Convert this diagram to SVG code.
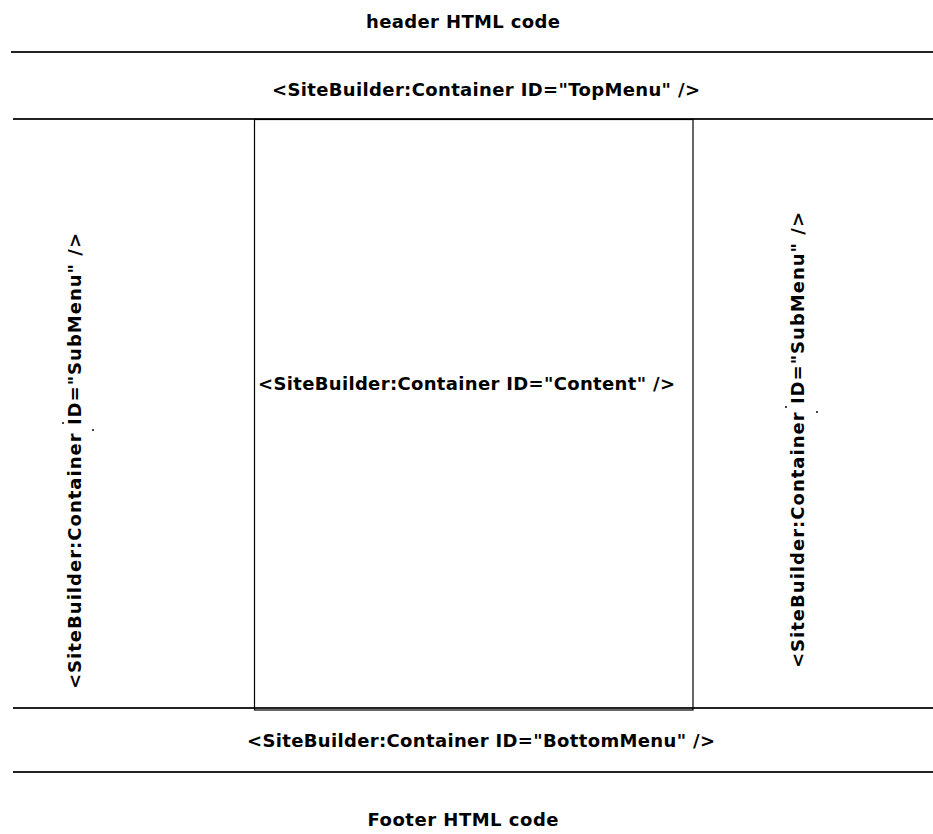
<svg xmlns="http://www.w3.org/2000/svg" width="933" height="834" viewBox="0 0 933 834">
  <style>
    .lbl { font-family: "DejaVu Sans", "Liberation Sans", sans-serif; font-weight: bold; font-size: 18px; fill: #000; }
    .rule { stroke: #222; stroke-width: 2; fill: none; }
    .frame { stroke: #000; stroke-width: 1.2; fill: none; }
    .dot { fill: #444; }
  </style>
  <rect x="0" y="0" width="933" height="834" fill="#fff"/>

  <!-- horizontal separators of the page template -->
  <g id="separators">
    <line class="rule" x1="11" y1="52" x2="933" y2="52"/>
    <line class="rule" x1="13" y1="119" x2="933" y2="119"/>
    <line class="rule" x1="13" y1="708" x2="933" y2="708"/>
    <line class="rule" x1="13" y1="772" x2="933" y2="772"/>
  </g>

  <g id="header">
    <text class="lbl" x="463" y="28" text-anchor="middle" textLength="194" lengthAdjust="spacing">header HTML code</text>
  </g>

  <g id="top-menu">
    <text class="lbl" x="486" y="96" text-anchor="middle" textLength="428" lengthAdjust="spacing">&lt;SiteBuilder:Container ID="TopMenu" /&gt;</text>
  </g>

  <g id="left-submenu">
    <text class="lbl" transform="translate(81,461) rotate(-90)" x="0" y="0" text-anchor="middle" textLength="456" lengthAdjust="spacing">&lt;SiteBuilder:Container ID="SubMenu" /&gt;</text>
    <rect class="dot" x="62" y="422" width="2" height="2"/>
    <rect class="dot" x="92" y="429" width="2" height="2"/>
  </g>

  <g id="content">
    <rect class="frame" x="254.5" y="119.5" width="438.5" height="590.5"/>
    <text class="lbl" x="258" y="390" textLength="417" lengthAdjust="spacing">&lt;SiteBuilder:Container ID="Content" /&gt;</text>
  </g>

  <g id="right-submenu">
    <text class="lbl" transform="translate(804,440) rotate(-90)" x="0" y="0" text-anchor="middle" textLength="456" lengthAdjust="spacing">&lt;SiteBuilder:Container ID="SubMenu" /&gt;</text>
    <rect class="dot" x="785" y="406" width="2" height="2"/>
    <rect class="dot" x="816" y="411" width="2" height="2"/>
  </g>

  <g id="bottom-menu">
    <text class="lbl" x="481" y="747" text-anchor="middle" textLength="468" lengthAdjust="spacing">&lt;SiteBuilder:Container ID="BottomMenu" /&gt;</text>
  </g>

  <g id="footer">
    <text class="lbl" x="463" y="826" text-anchor="middle" textLength="191" lengthAdjust="spacing">Footer HTML code</text>
  </g>
</svg>
